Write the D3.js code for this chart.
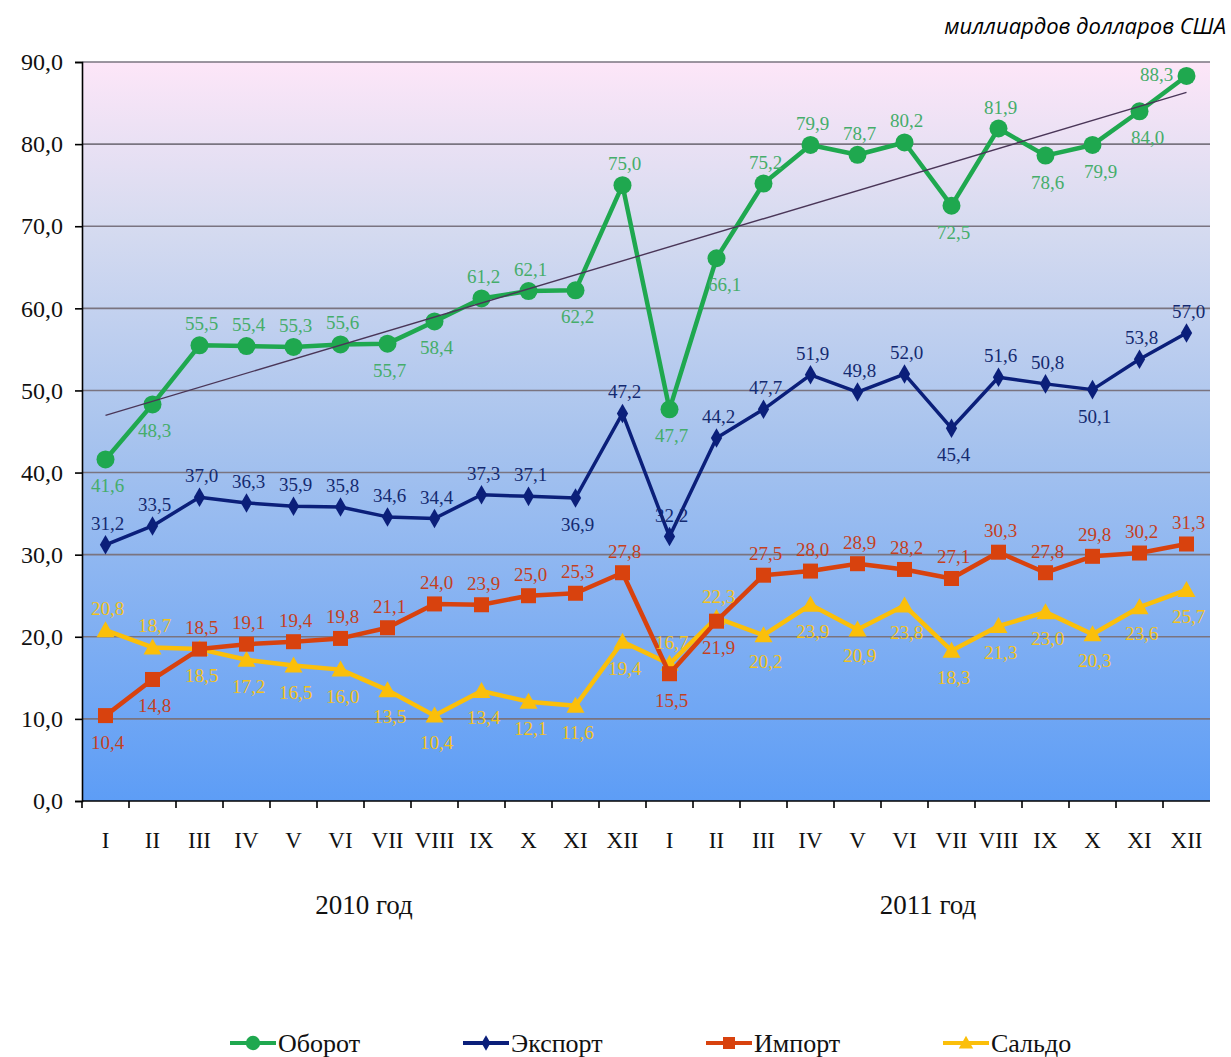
<!DOCTYPE html>
<html>
<head>
<meta charset="utf-8">
<script src="https://cdn.jsdelivr.net/npm/d3@7"></script>
<style>
  body { margin: 0; background: #fff; }
  svg text { font-family: "Liberation Serif", "Times New Roman", serif; }
</style>
</head>
<body>
<div id="chart"></div>
<script>
// months, two years
const months = ["I","II","III","IV","V","VI","VII","VIII","IX","X","XI","XII",
                "I","II","III","IV","V","VI","VII","VIII","IX","X","XI","XII"];
const years = ["2010 год", "2011 год"];
const yTicks = [0, 10, 20, 30, 40, 50, 60, 70, 80, 90];

const turnover = [41.6, 48.3, 55.5, 55.4, 55.3, 55.6, 55.7, 58.4, 61.2, 62.1, 62.2, 75.0,
                  47.7, 66.1, 75.2, 79.9, 78.7, 80.2, 72.5, 81.9, 78.6, 79.9, 84.0, 88.3];
const exportV  = [31.2, 33.5, 37.0, 36.3, 35.9, 35.8, 34.6, 34.4, 37.3, 37.1, 36.9, 47.2,
                  32.2, 44.2, 47.7, 51.9, 49.8, 52.0, 45.4, 51.6, 50.8, 50.1, 53.8, 57.0];
const importV  = [10.4, 14.8, 18.5, 19.1, 19.4, 19.8, 21.1, 24.0, 23.9, 25.0, 25.3, 27.8,
                  15.5, 21.9, 27.5, 28.0, 28.9, 28.2, 27.1, 30.3, 27.8, 29.8, 30.2, 31.3];
const balance  = [20.8, 18.7, 18.5, 17.2, 16.5, 16.0, 13.5, 10.4, 13.4, 12.1, 11.6, 19.4,
                  16.7, 22.3, 20.2, 23.9, 20.9, 23.8, 18.3, 21.3, 23.0, 20.3, 23.6, 25.7];

// where each value label sits: a = above, b = below, r = below-right, l = left
const turnoverSide = "bbaaaabbaababraaaababrrl".split("");
const exportSide   = "aaaaaaaaaabaaaaaaabaabaa".split("");
const importSide   = "bbaaaaaaaaaabbaaaaaaaaaa".split("");
const balanceSide  = "aabbbbbbbbbbaabbbbbbbbbb".split("");

const width = 1231, height = 1057;
const margin = {left: 82, right: 21, top: 62, bottom: 256};

const svg = d3.select("#chart").append("svg")
    .attr("width", width)
    .attr("height", height);

const x = d3.scaleBand()
    .domain(d3.range(months.length))
    .range([margin.left, width - margin.right]);

const y = d3.scaleLinear()
    .domain([0, 90])
    .range([height - margin.bottom, margin.top]);

const cx = i => x(i) + x.bandwidth() / 2;

//Background gradient of plot area
const defs = svg.append("defs");
const grad = defs.append("linearGradient")
    .attr("id", "bg")
    .attr("x1", 0).attr("y1", 0).attr("x2", 0).attr("y2", 1);
grad.append("stop").attr("offset", "0%").attr("stop-color", "#fde6f8");
grad.append("stop").attr("offset", "22%").attr("stop-color", "#d6dbf0");
grad.append("stop").attr("offset", "50%").attr("stop-color", "#a9c4ee");
grad.append("stop").attr("offset", "100%").attr("stop-color", "#5d9df6");

svg.append("rect")
    .attr("x", margin.left)
    .attr("y", margin.top)
    .attr("width", width - margin.left - margin.right)
    .attr("height", y(0) - y(90))
    .attr("fill", "url(#bg)");

//Gridlines
svg.append("g")
    .selectAll("line")
    .data(yTicks.filter(d => d > 0))
    .enter().append("line")
    .attr("x1", margin.left)
    .attr("x2", width - margin.right)
    .attr("y1", d => y(d))
    .attr("y2", d => y(d))
    .attr("stroke", "#7a7480")
    .attr("stroke-width", 1.6);

//Y axis
const yAxis = svg.append("g")
    .attr("transform", `translate(${margin.left},0)`)
    .call(d3.axisLeft(y).tickValues(yTicks).tickSize(7).tickPadding(12)
        .tickFormat(d => d3.format(".1f")(d).replace(".", ",")));
yAxis.select(".domain").attr("stroke", "#000").attr("stroke-width", 1.6);
yAxis.selectAll(".tick line").attr("stroke", "#000").attr("stroke-width", 1.6);
yAxis.selectAll("text")
    .style("font-family", "Liberation Serif, serif")
    .style("font-size", "24px")
    .attr("fill", "#111");

//X axis with ticks on band edges
const xAxisY = y(0);
svg.append("line")
    .attr("x1", margin.left).attr("x2", width - margin.right)
    .attr("y1", xAxisY).attr("y2", xAxisY)
    .attr("stroke", "#000").attr("stroke-width", 1.6);

svg.append("g")
    .selectAll("line")
    .data(d3.range(months.length))
    .enter().append("line")
    .attr("x1", d => x(d)).attr("x2", d => x(d))
    .attr("y1", xAxisY).attr("y2", xAxisY + 7)
    .attr("stroke", "#000").attr("stroke-width", 1.6);

svg.append("g")
    .selectAll("text")
    .data(months)
    .enter().append("text")
    .attr("x", (d, i) => cx(i))
    .attr("y", xAxisY + 47)
    .attr("text-anchor", "middle")
    .style("font-size", "23px")
    .attr("fill", "#111")
    .text(d => d);

//Year labels under each group of 12
svg.append("g")
    .selectAll("text")
    .data(years)
    .enter().append("text")
    .attr("x", (d, i) => (x(i * 12) + x(i * 12 + 11) + x.bandwidth()) / 2)
    .attr("y", xAxisY + 113)
    .attr("text-anchor", "middle")
    .style("font-size", "27px")
    .attr("fill", "#111")
    .text(d => d);

//Unit label
svg.append("text")
    .attr("x", 1226)
    .attr("y", 34)
    .attr("text-anchor", "end")
    .style("font-family", "'Open Sans', sans-serif")
    .style("font-style", "italic")
    .style("font-size", "22px")
    .attr("fill", "#000")
    .text("миллиардов долларов США");

//Linear trend of turnover
const idx = d3.range(turnover.length);
const mx = d3.mean(idx), my = d3.mean(turnover);
const slope = d3.sum(idx, i => (i - mx) * (turnover[i] - my)) / d3.sum(idx, i => (i - mx) * (i - mx));
const icpt = my - slope * mx;

const series = [
    {name: "Оборот",  values: turnover, side: turnoverSide, color: "#1fa84f", label: "#45ad6a", shape: "circle"},
    {name: "Экспорт", values: exportV,  side: exportSide,   color: "#0b1f7a", label: "#142a70", shape: "diamond"},
    {name: "Импорт",  values: importV,  side: importSide,   color: "#d8420e", label: "#c4401e", shape: "square"},
    {name: "Сальдо",  values: balance,  side: balanceSide,  color: "#fbbf0a", label: "#f3c21a", shape: "triangle"}
];

const line = d3.line().x((d, i) => cx(i)).y(d => y(d));

function marker(g, shape, color) {
    if (shape === "circle") {
        g.append("circle").attr("r", 9).attr("fill", color);
    } else if (shape === "diamond") {
        g.append("path").attr("d", d3.symbol(d3.symbolDiamond, 110)()).attr("fill", color);
    } else if (shape === "square") {
        g.append("rect").attr("x", -7.5).attr("y", -7.5).attr("width", 15).attr("height", 15).attr("fill", color);
    } else {
        g.append("path").attr("d", "M0,-9L9,7L-9,7Z").attr("fill", color);
    }
}

const widths = {circle: 4.5, diamond: 3.5, square: 4.5, triangle: 4.5};

// draw lines bottom-up so turnover sits on top like the original
series.slice().reverse().forEach(s => {
    svg.append("path")
        .datum(s.values)
        .attr("d", line)
        .attr("fill", "none")
        .attr("stroke", s.color)
        .attr("stroke-width", widths[s.shape])
        .attr("stroke-linejoin", "round");

    svg.append("g")
        .selectAll("g")
        .data(s.values)
        .enter().append("g")
        .attr("transform", (d, i) => `translate(${cx(i)},${y(d)})`)
        .each(function () { marker(d3.select(this), s.shape, s.color); });
});

//Trend line drawn above the turnover line
svg.append("line")
    .attr("x1", cx(0)).attr("y1", y(icpt))
    .attr("x2", cx(23)).attr("y2", y(icpt + slope * 23))
    .attr("stroke", "#4a3658")
    .attr("stroke-width", 1.4);

//Value labels
series.forEach(s => {
    svg.append("g")
        .selectAll("text")
        .data(s.values)
        .enter().append("text")
        .attr("x", (d, i) => cx(i) + (s.side[i] === "r" ? 8 : s.side[i] === "l" ? -30 : 2))
        .attr("y", (d, i) => {
            const p = s.side[i];
            if (p === "a") return y(d) - 15;
            if (p === "l") return y(d) + 5;
            return y(d) + 33;
        })
        .attr("text-anchor", "middle")
        .style("font-size", "19px")
        .attr("fill", s.label)
        .text(d => d3.format(".1f")(d).replace(".", ","));
});

//Legend
const legendX = [230, 463, 706, 943];
const legend = svg.append("g")
    .selectAll("g")
    .data(series)
    .enter().append("g")
    .attr("transform", (d, i) => `translate(${legendX[i]},1043)`);

legend.append("line")
    .attr("x1", 0).attr("x2", 46)
    .attr("stroke", d => d.color)
    .attr("stroke-width", 4);

legend.append("g")
    .attr("transform", "translate(23,0) scale(0.8)")
    .each(function (d) { marker(d3.select(this), d.shape, d.color); });

legend.append("text")
    .attr("x", 48)
    .attr("y", 9)
    .style("font-size", "26px")
    .attr("fill", "#111")
    .text(d => d.name);
</script>
</body>
</html>
